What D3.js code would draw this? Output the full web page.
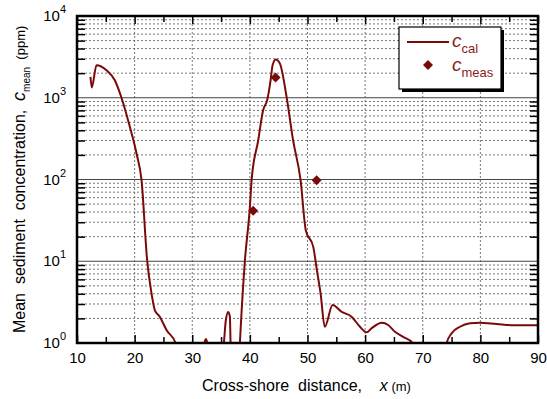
<!DOCTYPE html>
<html>
<head>
<meta charset="utf-8">
<script src="https://cdn.jsdelivr.net/npm/d3@7"></script>
<style>
body { margin: 0; background: #fff; }
text { font-family: Arial, "Liberation Sans", sans-serif; }
</style>
</head>
<body>
<div id="chart"></div>
<script>
// calculated concentration (ppm) along the profile
const calX = [12.34, 12.57, 13.38, 15.12, 16.56, 17.72, 19.17, 20.33, 21.2, 22.17, 22.93, 23.5, 24.37, 25.53, 27.1, 28.0, 31.0,
  32.1, 32.35, 32.6, 33.0, 35.0, 35.49, 35.83, 36.25, 36.53, 36.65, 37.0, 38.0,
  38.27, 39.13, 40.0, 40.3, 41.45, 42.3, 43.0, 43.6, 43.94, 44.5, 45.2, 46.37, 47.5, 48.8, 49.7, 51.0, 51.58, 52.27, 53.0,
  54.36, 55.9, 57.65, 59.1, 60.26, 61.1, 62.9, 64.0, 65.17, 66.6, 68.25, 69.0, 73.5,
  74.15, 75.0, 76.46, 78.2, 79.9, 82.8, 85.7, 90.0];
const calC = [1800, 1336, 2500, 2175, 1640, 1000, 441, 208, 98, 10.3, 4.05, 2.53, 2.1, 1.44, 1.0, 0.5, 0.3,
  1.0, 1.12, 1.0, 0.5, 0.5, 1.0, 1.9, 2.4, 2.1, 1.0, 0.4, 0.4,
  1.0, 10, 46, 98, 302, 703, 935, 1640, 2500, 2940, 2630, 1025, 302, 98, 24, 15, 8.2, 4.05, 1.58,
  2.91, 2.41, 2.1, 1.58, 1.35, 1.51, 1.77, 1.66, 1.37, 1.19, 1.0, 0.5, 0.5,
  1.0, 1.31, 1.58, 1.74, 1.77, 1.71, 1.65, 1.65];
// measured concentration
const measX = [40.57, 44.46, 51.58];
const measC = [41.4, 1770, 98];
const xTicks = [10, 20, 30, 40, 50, 60, 70, 80, 90];
const yDecades = [0, 1, 2, 3, 4];

const W = 547, H = 399;
const m = {l: 77, r: 9, t: 16, b: 56};
const pw = W - m.l - m.r, ph = H - m.t - m.b;
const red = "#7a0a0a";

const svg = d3.select("#chart").append("svg").attr("width", W).attr("height", H);
const x = d3.scaleLinear().domain([10, 90]).range([m.l, m.l + pw]);
const y = d3.scaleLog().domain([1, 1e4]).range([m.t + ph, m.t]);

const g = svg.append("g");
// grid
const minorY = [];
yDecades.slice(0, -1).forEach(d => { for (let k = 2; k <= 9; k++) minorY.push(k * Math.pow(10, d)); });
g.selectAll(".gminor").data(minorY).enter().append("line")
  .attr("x1", m.l).attr("x2", m.l + pw).attr("y1", d => y(d)).attr("y2", d => y(d))
  .attr("stroke", "#555").attr("stroke-width", 0.8).attr("stroke-dasharray", "2,2");
g.selectAll(".gx").data(xTicks.slice(1, -1)).enter().append("line")
  .attr("y1", m.t).attr("y2", m.t + ph).attr("x1", d => x(d)).attr("x2", d => x(d))
  .attr("stroke", "#555").attr("stroke-width", 0.8).attr("stroke-dasharray", "2,2");
g.selectAll(".gmaj").data(yDecades.slice(1, -1)).enter().append("line")
  .attr("x1", m.l).attr("x2", m.l + pw).attr("y1", d => y(Math.pow(10, d))).attr("y2", d => y(Math.pow(10, d)))
  .attr("stroke", "#444").attr("stroke-width", 1);

// axes with inward ticks
const minorX = d3.range(15, 90, 10);
const axB = d3.axisBottom(x).tickValues(xTicks).tickSizeInner(-8).tickSizeOuter(0).tickPadding(9).tickFormat(d3.format("d"));
const axT = d3.axisTop(x).tickValues(xTicks).tickSizeInner(-8).tickSizeOuter(0).tickFormat("");
const axBm = d3.axisBottom(x).tickValues(minorX).tickSizeInner(-6).tickSizeOuter(0).tickFormat("");
const axTm = d3.axisTop(x).tickValues(minorX).tickSizeInner(-6).tickSizeOuter(0).tickFormat("");
const axL = d3.axisLeft(y).tickValues(minorY).tickSizeInner(-8).tickSizeOuter(0).tickFormat("");
const axR = d3.axisRight(y).tickValues(minorY).tickSizeInner(-8).tickSizeOuter(0).tickFormat("");
[[axB, m.t + ph, 0], [axBm, m.t + ph, 0], [axT, m.t, 0], [axTm, m.t, 0]].forEach(([a, ty]) => {
  const ag = svg.append("g").attr("transform", `translate(0,${ty})`).call(a);
  ag.select(".domain").remove();
  ag.selectAll("line").attr("stroke", "#000").attr("stroke-width", 1.5);
  ag.selectAll("text").attr("font-size", 15).attr("fill", "#000");
});
[[axL, m.l], [axR, m.l + pw]].forEach(([a, tx]) => {
  const ag = svg.append("g").attr("transform", `translate(${tx},0)`).call(a);
  ag.select(".domain").remove();
  ag.selectAll("line").attr("stroke", "#000").attr("stroke-width", 1.5);
});

// y tick labels 10^n
const yl = svg.selectAll(".ylab").data(yDecades).enter().append("text")
  .attr("x", m.l - 11).attr("y", d => y(Math.pow(10, d)) + 5)
  .attr("text-anchor", "end").attr("font-size", 15).attr("fill", "#000");
yl.append("tspan").text("10");
yl.append("tspan").attr("dy", -8).attr("font-size", 11).text(d => d);

// curve
svg.append("clipPath").attr("id", "clip").append("rect")
  .attr("x", m.l).attr("y", m.t).attr("width", pw).attr("height", ph);
const line = d3.line().x(d => x(d[0])).y(d => y(d[1])).curve(d3.curveMonotoneX);
svg.append("path").datum(calX.map((v, i) => [v, calC[i]]))
  .attr("clip-path", "url(#clip)").attr("fill", "none")
  .attr("stroke", red).attr("stroke-width", 2).attr("d", line);

const diamond = d3.symbol().type(d3.symbolSquare).size(50);
svg.selectAll(".meas").data(measX).enter().append("path")
  .attr("d", diamond)
  .attr("transform", (d, i) => `translate(${x(d)},${y(measC[i])}) rotate(45)`)
  .attr("fill", red);

// frame
svg.append("rect").attr("x", m.l).attr("y", m.t).attr("width", pw).attr("height", ph)
  .attr("fill", "none").attr("stroke", "#000").attr("stroke-width", 2.5);

// legend
const lg = svg.append("g").attr("transform", "translate(399,27)");
lg.append("rect").attr("x", 3).attr("y", 3).attr("width", 102).attr("height", 62).attr("fill", "#000");
lg.append("rect").attr("width", 102).attr("height", 62).attr("fill", "#fff").attr("stroke", "#000").attr("stroke-width", 1.2);
lg.append("line").attr("x1", 8).attr("x2", 50).attr("y1", 15).attr("y2", 15).attr("stroke", red).attr("stroke-width", 2);
lg.append("path").attr("d", diamond).attr("transform", "translate(29,38) rotate(45)").attr("fill", red);
const legLabels = ["cal", "meas"];
legLabels.forEach((s, i) => {
  const t = lg.append("text").attr("x", 53).attr("y", 20 + i * 24).attr("fill", "#8b1c1c").attr("font-size", 19);
  t.append("tspan").attr("font-style", "italic").text("c");
  t.append("tspan").attr("dy", 6).attr("font-size", 13).text(s);
});

// axis titles
const xt = svg.append("text").attr("x", 202).attr("y", 391).attr("font-size", 16).attr("fill", "#000")
  .attr("xml:space", "preserve");
xt.append("tspan").text("Cross-shore  distance,    ");
xt.append("tspan").attr("font-style", "italic").text("x");
xt.append("tspan").attr("font-size", 13).text(" (m)");

const yt = svg.append("text").attr("transform", "translate(25,333) rotate(-90)")
  .attr("font-size", 16).attr("fill", "#000").attr("xml:space", "preserve");
yt.append("tspan").text("Mean  sediment  concentration,  ");
yt.append("tspan").attr("font-style", "italic").attr("font-size", 18).text("c");
yt.append("tspan").attr("dy", 5).attr("font-size", 10).text("mean");
yt.append("tspan").attr("dy", -5).attr("font-size", 13).text("  (ppm)");
</script>
</body>
</html>
